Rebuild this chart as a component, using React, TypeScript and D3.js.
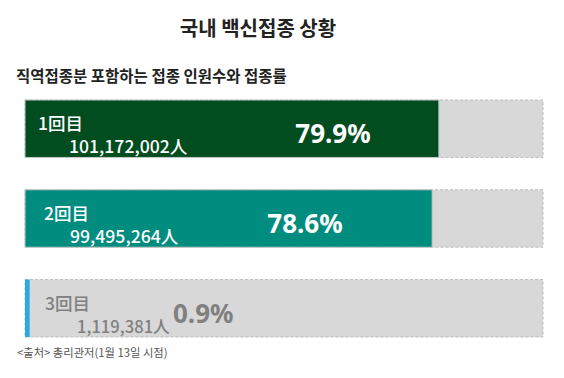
import React from "react";
import * as d3 from "d3";

const doses = ["1回目", "2回目", "3回目"];
const people = ["101,172,002人", "99,495,264人", "1,119,381人"];
const rates = [79.9, 78.6, 0.9];

const title = "국내 백신접종 상황";
const subtitle = "직역접종분 포함하는 접종 인원수와 접종률";
const source = "<출처> 총리관저(1월 13일 시점)";

const W = 564;
const H = 378;
const fillColors = ["#014d20", "#008c7e", "#29abe2"];
const textColors = ["#ffffff", "#ffffff", "#808080"];
// per-row label layout
const labelLayout = [
  { doseX: 38, countX: 69, countSize: 17.6, pctX: 333, anchor: "middle" },
  { doseX: 44, countX: 70, countSize: 17.6, pctX: 305, anchor: "middle" },
  { doseX: 45, countX: 77, countSize: 16.6, pctX: 173, anchor: "start" },
];

export default function App() {
  const x = d3.scaleLinear().domain([0, 100]).range([25, 543]);
  const y = d3
    .scaleBand<number>()
    .domain(d3.range(doses.length))
    .range([100, 337])
    .paddingInner(0.36);
  const font = "'Noto Sans CJK KR', 'Noto Sans', sans-serif";
  return (
    <svg
      width={W}
      height={H}
      style={{ position: "absolute", left: 0, top: 0, background: "#fff" }}
      fontFamily={font}
    >
      <text x={258} y={36} textAnchor="middle" fontSize={20} fontWeight="bold" fill="#222">
        {title}
      </text>
      <text x={16} y={82} fontSize={15.5} fontWeight="bold" fill="#222">
        {subtitle}
      </text>
      {rates.map((r, i) => {
        const y0 = y(i)!;
        const bh = y.bandwidth();
        const L = labelLayout[i];
        return (
          <g key={i}>
            <rect
              x={x(0)}
              y={y0}
              width={x(100) - x(0)}
              height={bh}
              fill="#d8d8d8"
              stroke="#bdbdbd"
              strokeWidth={1}
              strokeDasharray="3,2"
            />
            <rect
              x={x(0)}
              y={y0}
              width={Math.max(x(r) - x(0), 0)}
              height={bh}
              fill={fillColors[i]}
              stroke={i < 2 ? "#c8c8c8" : "none"}
              strokeWidth={i < 2 ? 1 : 0}
            />
            <text x={L.doseX} y={y0 + 30} fontSize={17.5} fontWeight={500} fill={textColors[i]}>
              {doses[i]}
            </text>
            <text x={L.countX} y={y0 + 53} fontSize={L.countSize} fontWeight={500} fill={textColors[i]}>
              {people[i]}
            </text>
            <text
              x={L.pctX}
              y={y0 + 43}
              fontSize={26}
              fontWeight="bold"
              textAnchor={L.anchor as any}
              fill={textColors[i]}
              fontFamily="'Noto Sans', 'Open Sans', sans-serif"
            >
              {r.toFixed(1)}%
            </text>
          </g>
        );
      })}
      <text x={17} y={357} fontSize={11.3} fill="#555">
        {source}
      </text>
    </svg>
  );
}
